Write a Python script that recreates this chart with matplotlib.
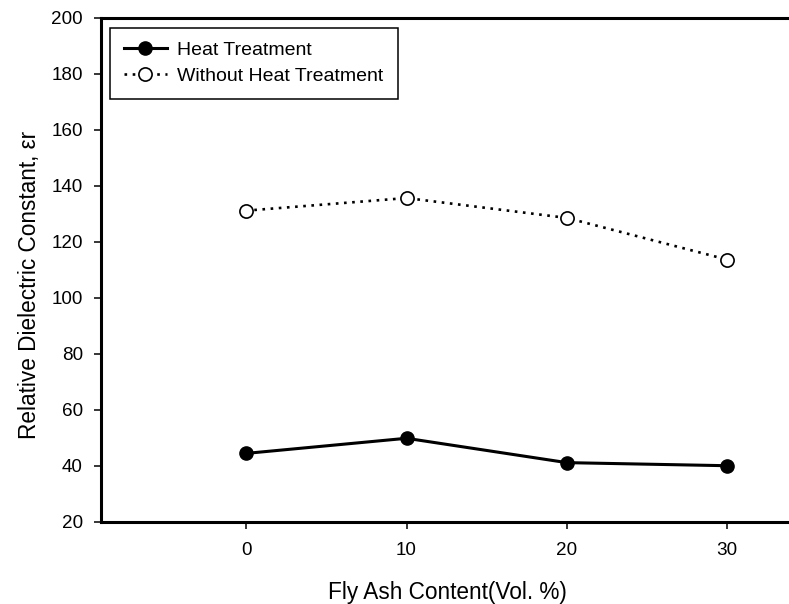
import matplotlib
matplotlib.use("Agg")
import matplotlib.pyplot as plt

fly_ash = [0, 10, 20, 30]
heat_treatment = [44.5, 49.9, 41.2, 40.1]
without_heat = [131.2, 135.7, 128.6, 113.7]
y_ticks = [20, 40, 60, 80, 100, 120, 140, 160, 180, 200]

plt.rcParams['font.family'] = ['Liberation Sans', 'DejaVu Sans']

fig = plt.figure(figsize=(7.89, 6.04), dpi=100)
ax = fig.add_axes([101/789, 82/604, 692/789, 504/604])

ax.plot(fly_ash, heat_treatment, color='black', lw=2.2, marker='o', ms=9.5,
        mfc='black', mec='black', label='Heat Treatment')
ax.plot(fly_ash, without_heat, color='black', lw=1.9, ls=(0, (1, 2.1)),
        marker='o', ms=9.5, mfc='white', mec='black', mew=1.2,
        label='Without Heat Treatment')

ax.set_xlim(-9.05, 34.1)
ax.set_ylim(20, 200)
ax.set_xticks(fly_ash)
ax.set_yticks(y_ticks)

for s in ax.spines.values():
    s.set_linewidth(2.2)
ax.tick_params(axis='both', direction='out', length=5, width=1.1,
               labelsize=13.6, pad=8)
ax.tick_params(axis='x', pad=9.5)

ax.set_xlabel('Fly Ash Content(Vol. %)', fontsize=16.3)
ax.xaxis.set_label_coords(0.5, -0.118)
ax.set_ylabel('Relative Dielectric Constant, εr', fontsize=16.3)
ax.yaxis.set_label_coords(-0.086, 0.47)

leg = ax.legend(loc='upper left', bbox_to_anchor=(0.013, 0.981),
                borderaxespad=0, fontsize=14.0, fancybox=False,
                edgecolor='black', framealpha=1, handlelength=2.2,
                handletextpad=0.55, borderpad=0.72, labelspacing=0.4,
                numpoints=1)
leg.get_frame().set_linewidth(1.1)

fig.savefig('out.png', dpi=100)
